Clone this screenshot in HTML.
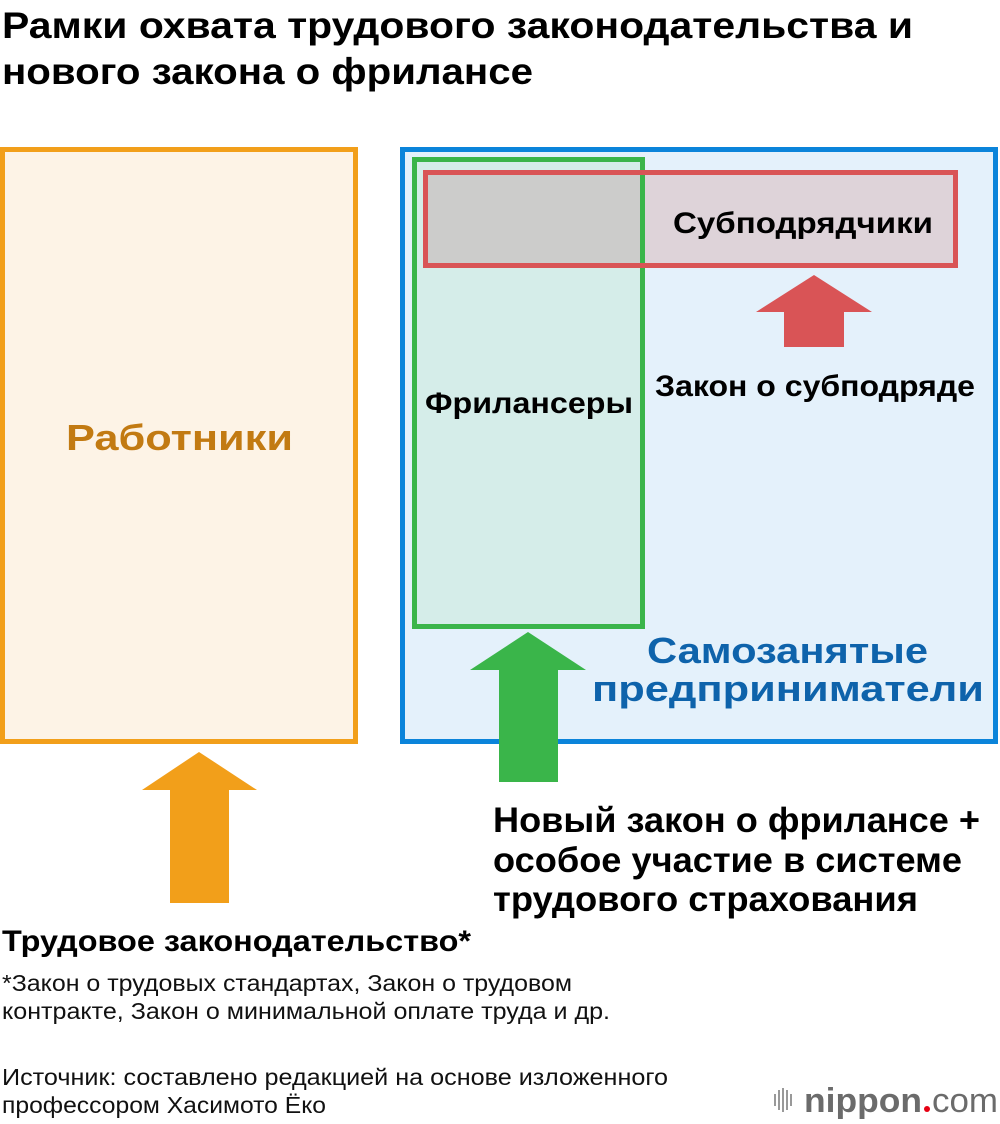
<!DOCTYPE html>
<html><head><meta charset="utf-8"><style>
html,body{margin:0;padding:0;background:#fff;}
svg{display:block;}
text{font-family:"Liberation Sans",sans-serif;}
</style></head><body>
<svg width="1000" height="1124" viewBox="0 0 1000 1124" xmlns="http://www.w3.org/2000/svg">
<g font-weight="bold" fill="#000">
<text x="2" y="38" font-size="37" textLength="911" lengthAdjust="spacingAndGlyphs">Рамки охвата трудового законодательства и</text>
<text x="2" y="84" font-size="37" textLength="531" lengthAdjust="spacingAndGlyphs">нового закона о фрилансе</text>
</g>
<rect x="2.5" y="149.5" width="353" height="592" fill="#fdf3e6" stroke="#f29f1a" stroke-width="5"/>
<text x="66" y="450" font-size="36" font-weight="bold" fill="#c27a12" textLength="227" lengthAdjust="spacingAndGlyphs">Работники</text>
<rect x="402.5" y="149.5" width="593" height="592" fill="#e4f1fb" stroke="#0b84da" stroke-width="5"/>
<rect x="414.5" y="159.5" width="228" height="467" fill="#d5ede9" stroke="#3ab54a" stroke-width="5"/>
<rect x="425.5" y="172.5" width="530" height="93" fill="#ded3d9" stroke="#d95456" stroke-width="5"/>
<rect x="428" y="175" width="212" height="88" fill="#cccccb"/>
<line x1="642.5" y1="175" x2="642.5" y2="263" stroke="#3ab54a" stroke-width="5"/>
<g font-weight="bold" fill="#000" font-size="30">
<text x="673" y="233" textLength="260" lengthAdjust="spacingAndGlyphs">Субподрядчики</text>
<text x="655" y="396" textLength="320" lengthAdjust="spacingAndGlyphs">Закон о субподряде</text>
<text x="425" y="413" textLength="208" lengthAdjust="spacingAndGlyphs">Фрилансеры</text>
</g>
<g font-weight="bold" fill="#0e63ab" font-size="36">
<text x="647" y="663" textLength="281" lengthAdjust="spacingAndGlyphs">Самозанятые</text>
<text x="592" y="701" textLength="392" lengthAdjust="spacingAndGlyphs">предприниматели</text>
</g>
<polygon points="814,275 872,312 844,312 844,347 784,347 784,312 756,312" fill="#d95456"/>
<polygon points="528,632 586,670 558,670 558,782 499,782 499,670 470,670" fill="#3ab54a"/>
<polygon points="199,752 257,790 229,790 229,903 170,903 170,790 142,790" fill="#f29f1a"/>
<g font-weight="bold" fill="#000" font-size="35">
<text x="493" y="832" textLength="487" lengthAdjust="spacingAndGlyphs">Новый закон о фрилансе +</text>
<text x="493" y="872" textLength="469" lengthAdjust="spacingAndGlyphs">особое участие в системе</text>
<text x="493" y="911" textLength="425" lengthAdjust="spacingAndGlyphs">трудового страхования</text>
</g>
<text x="2" y="951" font-size="30" font-weight="bold" textLength="469" lengthAdjust="spacingAndGlyphs">Трудовое законодательство*</text>
<g font-size="23" fill="#111">
<text x="2" y="991" textLength="570" lengthAdjust="spacingAndGlyphs">*Закон о трудовых стандартах, Закон о трудовом</text>
<text x="2" y="1019" textLength="608" lengthAdjust="spacingAndGlyphs">контракте, Закон о минимальной оплате труда и др.</text>
<text x="2" y="1085" textLength="666" lengthAdjust="spacingAndGlyphs">Источник: составлено редакцией на основе изложенного</text>
<text x="2" y="1113" textLength="324" lengthAdjust="spacingAndGlyphs">профессором Хасимото Ёко</text>
</g>
<g fill="#999">
<rect x="774" y="1094" width="2" height="12"/>
<rect x="778" y="1090" width="2" height="20"/>
<rect x="782" y="1088" width="2" height="24"/>
<rect x="786" y="1090" width="2" height="20"/>
<rect x="790" y="1094" width="2" height="12"/>
</g>
<text x="804" y="1112" font-size="34" fill="#6b6b6b" font-weight="bold" textLength="118" lengthAdjust="spacingAndGlyphs">nippon</text>
<circle cx="927" cy="1109" r="3" fill="#e60012"/>
<text x="932" y="1112" font-size="34" fill="#6b6b6b" textLength="66" lengthAdjust="spacingAndGlyphs">com</text>
</svg>
</body></html>
